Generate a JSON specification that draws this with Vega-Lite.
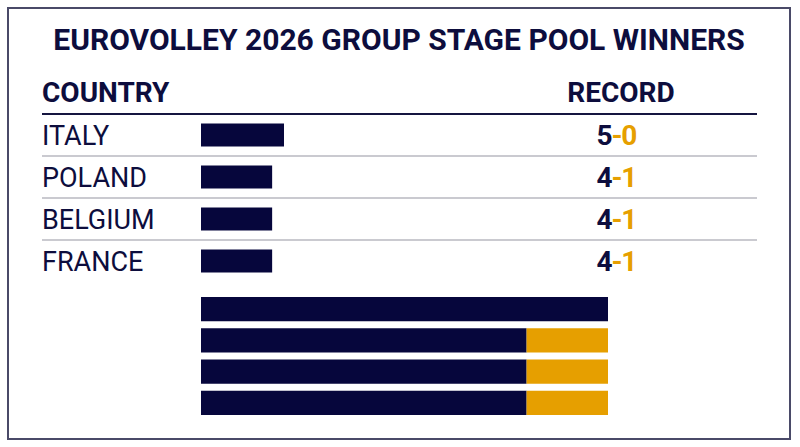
{
  "$schema": "https://vega.github.io/schema/vega-lite/v6.json",
  "width": 782,
  "height": 431,
  "autosize": {"type": "none"},
  "padding": {"left": 8, "top": 8, "right": 10, "bottom": 8},
  "background": "white",
  "config": {
    "view": {"stroke": "#4a4a68", "strokeWidth": 2},
    "font": "Roboto"
  },
  "title": {
    "text": "EUROVOLLEY 2026 GROUP STAGE POOL WINNERS",
    "font": "Roboto",
    "fontSize": 30,
    "fontWeight": "bold",
    "color": "#0d0d3d",
    "anchor": "middle",
    "offset": -48
  },
  "data": {
    "values": [
      {"country": "ITALY", "wins": 5, "losses": 0, "points": 14},
      {"country": "POLAND", "wins": 4, "losses": 1, "points": 12},
      {"country": "BELGIUM", "wins": 4, "losses": 1, "points": 12},
      {"country": "FRANCE", "wins": 4, "losses": 1, "points": 12}
    ]
  },
  "layer": [
    {
      "layer": [
        {
          "mark": {"type": "rule", "x": 34, "x2": 749},
          "encoding": {
            "y": {"field": "country", "type": "nominal", "bandPosition": 0, "sort": null,
                  "scale": {"domain": ["ITALY", "POLAND", "BELGIUM", "FRANCE"], "range": [106, 274], "paddingInner": 0, "paddingOuter": 0},
                  "axis": null},
            "color": {"condition": {"test": "datum.country === 'ITALY'", "value": "#151540"}, "value": "#b8b8c0"},
            "strokeWidth": {"condition": {"test": "datum.country === 'ITALY'", "value": 2.2}, "value": 1.5}
          }
        },
        {
          "mark": {"type": "bar", "color": "#06063c", "height": {"band": 0.55}},
          "encoding": {
            "y": {"field": "country", "type": "nominal", "sort": null, "axis": null},
            "x": {"field": "points", "type": "quantitative", "scale": {"domain": [0, 14], "range": [193, 276]}, "axis": null}
          }
        },
        {
          "mark": {"type": "text", "x": 34, "dy": 2, "align": "left", "baseline": "middle", "font": "Roboto", "fontSize": 27, "color": "#0d0d3d"},
          "encoding": {
            "y": {"field": "country", "type": "nominal", "sort": null, "axis": null},
            "text": {"field": "country"}
          }
        },
        {
          "mark": {"type": "text", "x": 609, "dx": -4.3, "dy": 2, "align": "right", "baseline": "middle", "font": "Roboto", "fontSize": 28, "fontWeight": "bold", "color": "#0d0d3d"},
          "encoding": {
            "y": {"field": "country", "type": "nominal", "sort": null, "axis": null},
            "text": {"field": "wins"}
          }
        },
        {
          "mark": {"type": "text", "x": 609, "dy": 2, "align": "center", "baseline": "middle", "font": "Roboto", "fontSize": 28, "fontWeight": "bold", "color": "#E69F00", "text": "-"},
          "encoding": {
            "y": {"field": "country", "type": "nominal", "sort": null, "axis": null}
          }
        },
        {
          "mark": {"type": "text", "x": 609, "dx": 4.3, "dy": 2, "align": "left", "baseline": "middle", "font": "Roboto", "fontSize": 28, "fontWeight": "bold", "color": "#E69F00"},
          "encoding": {
            "y": {"field": "country", "type": "nominal", "sort": null, "axis": null},
            "text": {"field": "losses"}
          }
        },
        {
          "data": {"values": [{"label": "COUNTRY"}]},
          "mark": {"type": "text", "x": 34, "y": 86, "align": "left", "baseline": "middle", "font": "Roboto", "fontSize": 28, "fontWeight": "bold", "color": "#0d0d3d"},
          "encoding": {"text": {"field": "label"}}
        },
        {
          "data": {"values": [{"label": "RECORD"}]},
          "mark": {"type": "text", "x": 613, "y": 86, "align": "center", "baseline": "middle", "font": "Roboto", "fontSize": 28, "fontWeight": "bold", "color": "#0d0d3d"},
          "encoding": {"text": {"field": "label"}}
        }
      ]
    },
    {
      "transform": [{"fold": ["wins", "losses"], "as": ["result", "games"]}],
      "mark": {"type": "bar"},
      "encoding": {
        "y": {"field": "country", "type": "nominal", "sort": null, "axis": null,
              "scale": {"domain": ["ITALY", "POLAND", "BELGIUM", "FRANCE"], "range": [289, 407], "paddingInner": 0.226, "paddingOuter": 0}},
        "x": {"field": "games", "type": "quantitative", "stack": "zero", "axis": null,
              "scale": {"domain": [0, 5], "range": [193, 600]}},
        "color": {"field": "result", "type": "nominal", "legend": null,
                  "scale": {"domain": ["wins", "losses"], "range": ["#06063c", "#E69F00"]}},
        "order": {"field": "result", "sort": "descending"}
      }
    }
  ],
  "resolve": {"scale": {"x": "independent", "y": "independent"}}
}
